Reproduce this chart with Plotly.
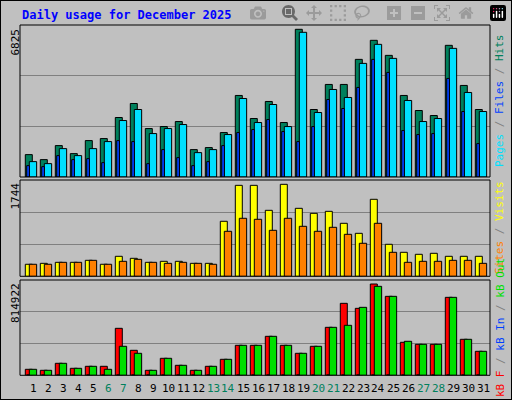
import plotly.graph_objects as go

days = list(range(1, 32))
day_labels = [str(d) for d in days]
weekend_days = [6, 7, 13, 14, 20, 21, 27, 28]

hits = [1034,803,1452,1081,1683,1776,2749,3397,2239,2332,2563,1266,1359,2054,3768,2702,3490,2517,6825,3119,4277,4277,5436,6316,5621,3768,3073,2841,6084,4231,3119]
files = [710,618,1312,988,1312,1637,2609,3119,2007,2239,2424,1127,1266,1961,3628,2517,3350,2331,6686,2980,4045,3675,5250,6130,5481,3536,2563,2702,5944,3906,3026]
pages = [525,479,988,803,849,664,1683,1637,618,1266,896,525,710,1451,2054,2192,2656,2100,1637,2331,3582,3165,4138,5435,4833,2146,1961,2007,4555,3026,1544]
visits = [228,246,265,265,303,228,379,341,265,284,284,246,246,1043,1725,1725,1251,1744,1289,1194,1232,1005,815,1460,607,455,417,436,379,379,379]
sites = [228,228,265,265,303,228,284,322,265,246,265,246,228,853,1100,1081,872,1100,948,853,929,796,626,1005,455,265,284,284,303,303,246]
kb_f = [53532,44610,107064,62454,80298,80298,419334,223050,44610,151674,89220,44610,80298,142752,267660,267660,347958,267660,196284,258738,428256,642384,597774,814922,704838,294426,276582,276582,695916,321192,214128]
kb_out = [53532,44610,107064,62454,80298,53532,258738,196284,44610,151674,89220,44610,80298,142752,267660,267660,347958,267660,196284,258738,428256,446100,606696,794058,704838,303348,276582,276582,695916,321192,214128]
kb_in = [3000]*31

W, H = 512, 400
def fx(px): return px / W
def fy(py): return 1 - py / H

fig = go.Figure()
line = dict(color="black", width=1)

def bars(vals, color, off, wid, xa, ya):
    fig.add_trace(go.Bar(x=days, y=vals, marker=dict(color=color, line=line),
                         offset=off, width=wid, xaxis=xa, yaxis=ya, showlegend=False))

bars(hits, "#00805C", -0.147, 0.467, "x", "y")
bars(files, "#00E0FF", 0.12, 0.49, "x", "y")
bars(pages, "#0040FF", -0.053, 0.18, "x", "y")
bars(visits, "#FFFF00", -0.147, 0.467, "x2", "y2")
bars(sites, "#FF8000", 0.12, 0.49, "x2", "y2")
bars(kb_f, "#FF0000", -0.147, 0.467, "x3", "y3")
bars(kb_out, "#00E000", 0.12, 0.49, "x3", "y3")
bars(kb_in, "#0040FF", -0.053, 0.18, "x3", "y3")

xr = [0.5, 31.833]
xdom = [fx(20), fx(490)]
panels = [(25, 177, 7024), (180, 276.3, 1826), (280, 375.3, 850600)]
layout = {}
for i, (t, b, mx) in enumerate(panels):
    s = "" if i == 0 else str(i + 1)
    layout["xaxis" + s] = dict(domain=xdom, range=xr, showticklabels=False, showgrid=False,
                               zeroline=False, anchor="y" + s, fixedrange=True)
    layout["yaxis" + s] = dict(domain=[fy(b), fy(t)], range=[0, mx], showticklabels=False,
                               tickvals=[mx / 3, 2 * mx / 3], gridcolor="#808080", gridwidth=1,
                               zeroline=False, anchor="x" + s)

shapes = [dict(type="rect", xref="paper", yref="paper", x0=0, x1=1, y0=0, y1=1,
               line=dict(color="black", width=2))]
for t, b, mx in panels:
    shapes.append(dict(type="rect", xref="paper", yref="paper", x0=fx(20), x1=fx(490),
                       y0=fy(b), y1=fy(t), line=dict(color="black", width=1)))

font = "DejaVu Sans Mono"
ann = [dict(text="<b>Daily usage for December 2025</b>", x=fx(20), y=fy(15), xref="paper",
            yref="paper", xanchor="left", yanchor="middle", showarrow=False,
            font=dict(family=font, size=12, color="#0000FF"))]
for lab, t in [("6825", 27), ("1744", 181), ("814922", 281)]:
    ann.append(dict(text=lab, x=fx(15), y=fy(t), xref="paper", yref="paper", textangle=-90,
                    xanchor="center", yanchor="top", showarrow=False,
                    font=dict(family=font, size=11, color="black")))
right = [
    ("<span style='color:#00E0FF'>Pages</span> / <span style='color:#0040FF'>Files</span> / <span style='color:#00805C'>Hits</span>", 101),
    ("<span style='color:#FF8000'>Sites</span> / <span style='color:#FFFF00'>Visits</span>", 228),
    ("<span style='color:#FF0000'>kB F</span> / <span style='color:#0040FF'>kB In</span> / <span style='color:#00E000'>kB Out</span>", 328),
]
for txt, yc in right:
    ann.append(dict(text=txt, x=fx(500), y=fy(yc), xref="paper", yref="paper", textangle=-90,
                    xanchor="center", yanchor="middle", showarrow=False,
                    font=dict(family=font, size=11, color="#808080")))
for d, lab in zip(days, day_labels):
    ann.append(dict(text=lab, x=d + 0.37, y=fy(388), xref="x3", yref="paper", showarrow=False,
                    xanchor="center", yanchor="middle",
                    font=dict(family=font, size=11, color="#00805C" if d in weekend_days else "black")))

fig.update_layout(width=W, height=H, margin=dict(l=0, r=0, t=0, b=0),
                  paper_bgcolor="#C0C0C0", plot_bgcolor="#C0C0C0", barmode="overlay",
                  shapes=shapes, annotations=ann, **layout)
fig.write_html("out.html",
               post_script="document.body.style.margin='0';document.body.style.overflow='hidden';")
